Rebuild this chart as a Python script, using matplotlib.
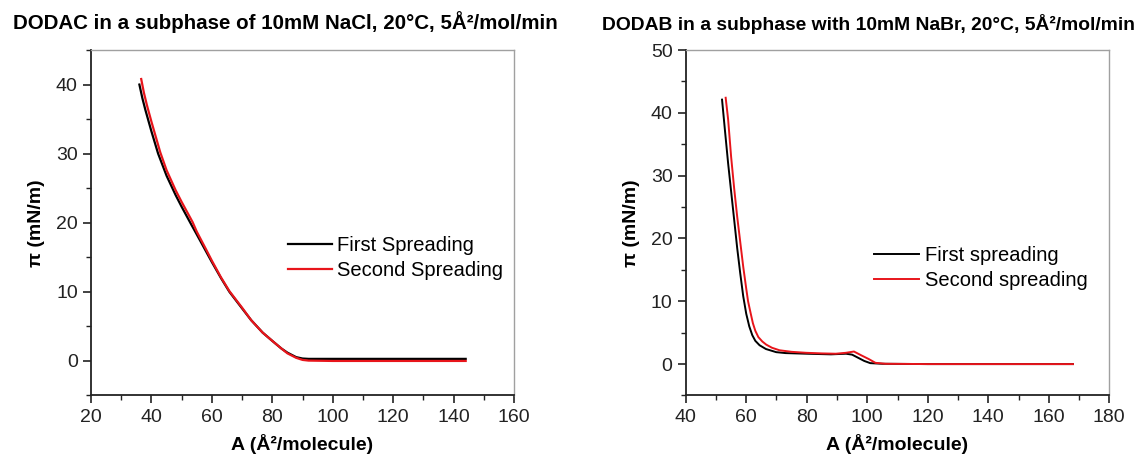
import numpy as np
import matplotlib
matplotlib.use('Agg')
import matplotlib.pyplot as plt
from matplotlib.ticker import MultipleLocator

plt.rcParams['font.family'] = ['Liberation Sans', 'DejaVu Sans']

# DODAC, 10mM NaCl (left)
dodac_first_A = [36, 37, 38, 40, 42.2, 45, 48, 50, 53.1, 55, 58, 60, 63, 65.8, 70, 73, 76.8, 80, 83, 85, 87.9, 90, 92, 100, 120, 144]
dodac_first_P = [40, 38.0, 36.3, 33.2, 30, 26.8, 24.0, 22.3, 19.8, 18.3, 15.9, 14.3, 12.0, 10.0, 7.6, 5.9, 4.1, 2.9, 1.8, 1.2, 0.55, 0.35, 0.3, 0.3, 0.3, 0.3]
dodac_second_A = [36.6, 37.5, 38.5, 40, 42.9, 45, 48, 50, 53.6, 55, 58, 60, 63, 65.8, 70, 73, 76.8, 80, 83, 85, 87.9, 90, 92, 100, 120, 144]
dodac_second_P = [40.8, 38.8, 37.0, 34.6, 30.2, 27.6, 24.7, 23.0, 20.1, 18.7, 16.2, 14.5, 12.1, 10.1, 7.7, 5.9, 4.1, 2.9, 1.8, 1.1, 0.45, 0.15, 0.05, 0.0, 0.0, 0.0]

# DODAB, 10mM NaBr (right)
dodab_first_A = [52, 53, 54, 55, 56, 57, 58, 59, 60, 61, 62, 63, 64.4, 66.5, 69.9, 73, 80, 88, 93, 95, 97, 99, 101, 105, 120, 168]
dodab_first_P = [42.1, 37, 32, 27.5, 23, 18.5, 14.5, 10.8, 8, 6, 4.6, 3.7, 3.0, 2.4, 1.9, 1.75, 1.65, 1.55, 1.65, 1.5, 1.0, 0.5, 0.15, 0.05, 0, 0]
dodab_second_A = [53.2, 54, 55, 56, 57, 58, 59, 60, 60.6, 61.5, 62.2, 63, 64, 65.3, 66.6, 68.5, 71, 75, 79.7, 85, 89.6, 93, 95.6, 98, 100.5, 102.7, 106, 120, 168]
dodab_second_P = [42.4, 39, 33, 28, 23.5, 19.5, 15.5, 12, 10, 8, 6.5, 5.3, 4.3, 3.6, 3.1, 2.6, 2.2, 1.95, 1.8, 1.7, 1.65, 1.8, 2.0, 1.4, 0.8, 0.2, 0.05, 0, 0]

red = '#e8151b'
fig = plt.figure(figsize=(11.41, 4.63), dpi=100)
ax1 = fig.add_axes([0.0798, 0.1458, 0.3707, 0.7462])
ax2 = fig.add_axes([0.6010, 0.1458, 0.3712, 0.7462])


def style(ax):
    for s in ['left', 'bottom']:
        ax.spines[s].set_linewidth(1.3)
        ax.spines[s].set_color('#222222')
    for s in ['top', 'right']:
        ax.spines[s].set_linewidth(1.0)
        ax.spines[s].set_color('#a0a0a0')
    ax.tick_params(which='both', direction='out', top=False, right=False, colors='#222222', labelsize=14)
    ax.tick_params(which='major', length=6, width=1.2)
    ax.tick_params(which='minor', length=3.5, width=1.0)
    ax.xaxis.set_major_locator(MultipleLocator(20))
    ax.xaxis.set_minor_locator(MultipleLocator(10))
    ax.yaxis.set_major_locator(MultipleLocator(10))
    ax.yaxis.set_minor_locator(MultipleLocator(5))
    ax.set_xlabel('A (Å²/molecule)', fontsize=14, fontweight='bold', labelpad=6)
    ax.set_ylabel('π (mN/m)', fontsize=14, fontweight='bold', labelpad=8)


ax1.plot(dodac_first_A, dodac_first_P, color='black', lw=1.6, label='First Spreading')
ax1.plot(dodac_second_A, dodac_second_P, color=red, lw=1.6, label='Second Spreading')
ax1.set_xlim(20, 160)
ax1.set_ylim(-5, 45)
style(ax1)
ax1.legend(loc='upper left', bbox_to_anchor=(0.466, 0.462), frameon=False, fontsize=14.5,
           handlelength=2.2, handletextpad=0.25, labelspacing=0.3, borderpad=0, borderaxespad=0)

ax2.plot(dodab_first_A, dodab_first_P, color='black', lw=1.4, label='First spreading')
ax2.plot(dodab_second_A, dodab_second_P, color=red, lw=1.4, label='Second spreading')
ax2.set_xlim(40, 180)
ax2.set_ylim(-5, 50)
style(ax2)
ax2.legend(loc='upper left', bbox_to_anchor=(0.445, 0.433), frameon=False, fontsize=14.5,
           handlelength=2.2, handletextpad=0.3, labelspacing=0.3, borderpad=0, borderaxespad=0)

# titles are not centred on the axes in the original
fig.text(285 / 1141, 1 - 22 / 463, 'DODAC in a subphase of 10mM NaCl, 20°C, 5Å²/mol/min',
         ha='center', va='center', fontsize=14.8, fontweight='bold')
fig.text(868 / 1141, 1 - 24 / 463, 'DODAB in a subphase with 10mM NaBr, 20°C, 5Å²/mol/min',
         ha='center', va='center', fontsize=13.9, fontweight='bold')

fig.savefig('out.png', dpi=100)
